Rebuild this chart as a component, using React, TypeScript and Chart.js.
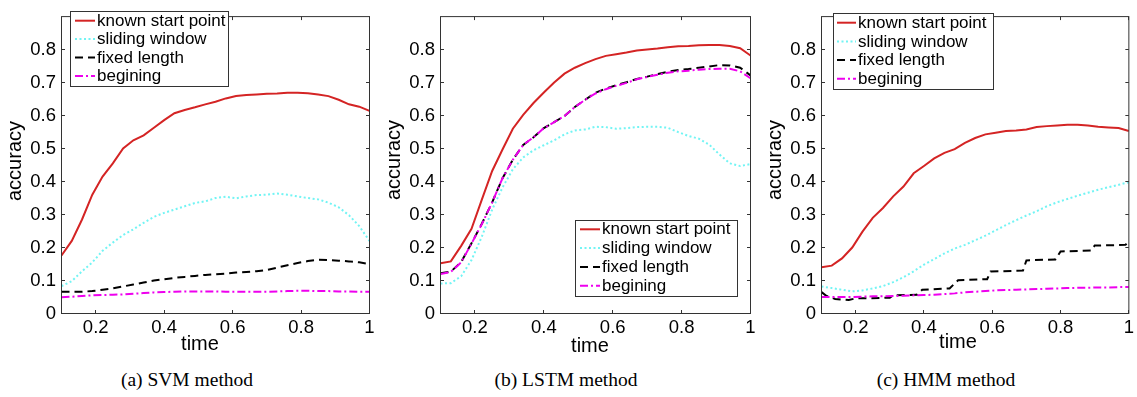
import React, { useEffect, useRef } from "react";
import { Chart, registerables } from "chart.js";

Chart.register(...registerables);

const FONT = '"Liberation Sans", Arial, Helvetica, sans-serif';

const seriesLabels = ["known start point", "sliding window", "fixed length", "begining"];

const time = [0.1, 0.13, 0.16, 0.19, 0.22, 0.25, 0.28, 0.31, 0.34, 0.37, 0.4, 0.43, 0.46, 0.49, 0.52, 0.55,
  0.58, 0.61, 0.64, 0.67, 0.7, 0.73, 0.76, 0.79, 0.82, 0.85, 0.88, 0.91, 0.94, 0.97, 1.0];

const xTickValues = [0.2, 0.4, 0.6, 0.8, 1];
const yTickValues = [0, 0.1, 0.2, 0.3, 0.4, 0.5, 0.6, 0.7, 0.8];

// (a) SVM
const svmKnown = [0.176, 0.22, 0.285, 0.36, 0.415, 0.455, 0.5, 0.525, 0.54, 0.563, 0.586, 0.607, 0.617, 0.625, 0.634, 0.642,
  0.652, 0.659, 0.662, 0.664, 0.666, 0.667, 0.669, 0.669, 0.668, 0.664, 0.659, 0.648, 0.634, 0.627, 0.614];
const svmSliding = [0.083, 0.098, 0.128, 0.155, 0.19, 0.215, 0.238, 0.255, 0.275, 0.293, 0.305, 0.315, 0.325, 0.335, 0.34, 0.35,
  0.354, 0.349, 0.355, 0.359, 0.36, 0.364, 0.36, 0.355, 0.35, 0.346, 0.336, 0.322, 0.298, 0.265, 0.22];
const svmFixed = [0.066, 0.066, 0.066, 0.068, 0.072, 0.076, 0.082, 0.088, 0.094, 0.1, 0.104, 0.108, 0.111, 0.114, 0.117, 0.119,
  0.121, 0.124, 0.126, 0.128, 0.132, 0.139, 0.146, 0.153, 0.159, 0.163, 0.162, 0.16, 0.158, 0.155, 0.15];
const svmBegin = [0.049, 0.051, 0.053, 0.055, 0.056, 0.057, 0.058, 0.06, 0.062, 0.064, 0.065, 0.066, 0.067, 0.067, 0.067, 0.067,
  0.066, 0.066, 0.066, 0.066, 0.066, 0.067, 0.068, 0.069, 0.069, 0.068, 0.068, 0.067, 0.067, 0.066, 0.066];

// (b) LSTM
const lstmKnown = [0.152, 0.158, 0.205, 0.257, 0.345, 0.432, 0.497, 0.56, 0.602, 0.638, 0.67, 0.7, 0.727, 0.745, 0.759, 0.771,
  0.781, 0.786, 0.791, 0.797, 0.8, 0.803, 0.807, 0.81, 0.811, 0.813, 0.814, 0.814, 0.811, 0.804, 0.782];
const lstmSliding = [0.091, 0.092, 0.113, 0.162, 0.233, 0.315, 0.382, 0.437, 0.473, 0.495, 0.51, 0.525, 0.543, 0.555, 0.558, 0.566,
  0.565, 0.56, 0.562, 0.565, 0.566, 0.566, 0.563, 0.55, 0.538, 0.53, 0.512, 0.482, 0.455, 0.447, 0.453];
const lstmFixed = [0.122, 0.127, 0.156, 0.213, 0.272, 0.337, 0.41, 0.466, 0.511, 0.534, 0.562, 0.58, 0.599, 0.626, 0.648, 0.669,
  0.682, 0.692, 0.701, 0.711, 0.718, 0.726, 0.733, 0.738, 0.741, 0.745, 0.749, 0.753, 0.752, 0.745, 0.722];
const lstmBegin = [0.12, 0.126, 0.155, 0.212, 0.271, 0.337, 0.41, 0.466, 0.511, 0.534, 0.562, 0.58, 0.599, 0.626, 0.648, 0.667,
  0.68, 0.69, 0.699, 0.71, 0.717, 0.724, 0.73, 0.734, 0.736, 0.739, 0.741, 0.742, 0.742, 0.734, 0.713];

// (c) HMM
const hmmKnown = [0.14, 0.145, 0.167, 0.2, 0.248, 0.29, 0.32, 0.355, 0.385, 0.425, 0.447, 0.47, 0.487, 0.498, 0.517, 0.532,
  0.543, 0.548, 0.553, 0.555, 0.558, 0.565, 0.568, 0.57, 0.572, 0.572, 0.57, 0.566, 0.564, 0.562, 0.553];
const hmmSliding = [0.082, 0.077, 0.072, 0.067, 0.07, 0.076, 0.083, 0.095, 0.11, 0.128, 0.148, 0.165, 0.182, 0.197, 0.208, 0.222,
  0.236, 0.252, 0.268, 0.283, 0.297, 0.31, 0.325, 0.337, 0.347, 0.357, 0.366, 0.375, 0.383, 0.39, 0.398];
const hmmFixedTime = [0.1, 0.115, 0.14, 0.18, 0.2, 0.23, 0.3, 0.31, 0.38, 0.395, 0.475, 0.5, 0.585, 0.595, 0.69, 0.7,
  0.785, 0.8, 0.89, 0.9, 0.99, 1.0];
const hmmFixed = [0.065, 0.053, 0.044, 0.041, 0.046, 0.046, 0.048, 0.055, 0.057, 0.072, 0.076, 0.101, 0.104, 0.127, 0.13, 0.161,
  0.164, 0.188, 0.191, 0.206, 0.208, 0.218];
const hmmBegin = [0.05, 0.05, 0.05, 0.05, 0.051, 0.052, 0.052, 0.053, 0.054, 0.055, 0.056, 0.057, 0.059, 0.061, 0.064, 0.066,
  0.068, 0.07, 0.071, 0.072, 0.073, 0.074, 0.075, 0.076, 0.077, 0.078, 0.078, 0.079, 0.079, 0.08, 0.08];

type LineStyle = { color: string; width: number; dash: number[] };
const lineStyles: LineStyle[] = [
  { color: "#d42424", width: 2, dash: [] },
  { color: "#72f4f4", width: 2, dash: [2, 2.5] },
  { color: "#000000", width: 2, dash: [8, 5] },
  { color: "#ee00ee", width: 2, dash: [8, 3, 2, 3] },
];

interface PanelSpec {
  left: number;
  width: number;
  height: number;
  area: { l: number; t: number; r: number; b: number };
  legend: { x: number; y: number; w: number; h: number; row0: number; gap: number; line0: number; line1: number; text: number };
  timeTitle: { x: number; y: number };
  accTitle: { x: number; y: number };
  caption: string;
  captionX: number;
  series: { x: number[]; y: number[] }[];
}

const panels: PanelSpec[] = [
  {
    left: 0, width: 380, height: 360,
    area: { l: 61.5, t: 5.5, r: 369.5, b: 313.5 },
    legend: { x: 70.5, y: 11.5, w: 158, h: 75, row0: 20.7, gap: 18.4, line0: 75, line1: 95, text: 97 },
    timeTitle: { x: 200, y: 350 },
    accTitle: { x: 21, y: 161 },
    caption: "(a) SVM method",
    captionX: 187,
    series: [
      { x: time, y: svmKnown },
      { x: time, y: svmSliding },
      { x: time, y: svmFixed },
      { x: time, y: svmBegin },
    ],
  },
  {
    left: 380, width: 380, height: 360,
    area: { l: 440.5, t: 4.5, r: 750.5, b: 313.5 },
    legend: { x: 575.5, y: 220.5, w: 162, h: 76, row0: 229.3, gap: 18.8, line0: 580, line1: 600, text: 602 },
    timeTitle: { x: 590, y: 351.5 },
    accTitle: { x: 400, y: 160 },
    caption: "(b) LSTM method",
    captionX: 566,
    series: [
      { x: time, y: lstmKnown },
      { x: time, y: lstmSliding },
      { x: time, y: lstmFixed },
      { x: time, y: lstmBegin },
    ],
  },
  {
    left: 760, width: 377, height: 360,
    area: { l: 821.5, t: 4.5, r: 1130.5, b: 313.5 },
    legend: { x: 833.5, y: 13.5, w: 160, h: 76, row0: 22.7, gap: 18.7, line0: 837, line1: 856, text: 858 },
    timeTitle: { x: 958, y: 348 },
    accTitle: { x: 781, y: 160 },
    caption: "(c) HMM method",
    captionX: 946,
    series: [
      { x: time, y: hmmKnown },
      { x: time, y: hmmSliding },
      { x: hmmFixedTime, y: hmmFixed },
      { x: time, y: hmmBegin },
    ],
  },
];

function makeDecorPlugin(spec: PanelSpec) {
  const off = spec.left;
  return {
    id: "matlabDecor",
    afterDatasetsDraw(chart: any) {
      const ctx = chart.ctx as CanvasRenderingContext2D;
      const { left, right, top, bottom } = chart.chartArea;
      const xs = chart.scales.x;
      const ys = chart.scales.y;
      ctx.save();
      ctx.strokeStyle = "#333333";
      ctx.lineWidth = 1;
      ctx.setLineDash([]);
      ctx.strokeRect(left, top, right - left, bottom - top);
      ctx.beginPath();
      const tl = 3.5;
      xs.ticks.forEach((t: any) => {
        const p = Math.round(xs.getPixelForValue(t.value) - 0.5) + 0.5;
        ctx.moveTo(p, bottom);
        ctx.lineTo(p, bottom - tl);
        ctx.moveTo(p, top);
        ctx.lineTo(p, top + tl);
      });
      ys.ticks.forEach((t: any) => {
        const p = Math.round(ys.getPixelForValue(t.value) - 0.5) + 0.5;
        ctx.moveTo(left, p);
        ctx.lineTo(left + tl, p);
        ctx.moveTo(right, p);
        ctx.lineTo(right - tl, p);
      });
      ctx.stroke();
      ctx.restore();
    },
    afterDraw(chart: any) {
      const ctx = chart.ctx as CanvasRenderingContext2D;
      ctx.save();
      // axis titles
      ctx.fillStyle = "#000";
      ctx.font = `20px ${FONT}`;
      ctx.textAlign = "center";
      ctx.textBaseline = "alphabetic";
      ctx.fillText("time", spec.timeTitle.x - off, spec.timeTitle.y);
      ctx.save();
      ctx.translate(spec.accTitle.x - off, spec.accTitle.y);
      ctx.rotate(-Math.PI / 2);
      ctx.fillText("accuracy", 0, 0);
      ctx.restore();

      // legend
      const lg = spec.legend;
      ctx.fillStyle = "#ffffff";
      ctx.fillRect(lg.x - off, lg.y, lg.w, lg.h);
      ctx.strokeStyle = "#333333";
      ctx.lineWidth = 1;
      ctx.setLineDash([]);
      ctx.strokeRect(lg.x - off, lg.y, lg.w, lg.h);
      ctx.font = `17px ${FONT}`;
      ctx.textAlign = "left";
      ctx.textBaseline = "middle";
      chart.data.datasets.forEach((ds: any, i: number) => {
        const y = lg.row0 + i * lg.gap;
        ctx.save();
        ctx.strokeStyle = ds.borderColor;
        ctx.lineWidth = ds.borderWidth;
        ctx.setLineDash(ds.borderDash || []);
        ctx.beginPath();
        ctx.moveTo(lg.line0 - off, y);
        ctx.lineTo(lg.line1 - off, y);
        ctx.stroke();
        ctx.restore();
        ctx.fillStyle = "#000";
        ctx.fillText(ds.label, lg.text - off, y + 0.5);
      });
      ctx.restore();
    },
  };
}

function Panel({ spec }: { spec: PanelSpec }) {
  const ref = useRef<HTMLCanvasElement | null>(null);
  useEffect(() => {
    if (!ref.current) return;
    const n = spec.series.length;
    const chart = new Chart(ref.current, {
      type: "line",
      data: {
        datasets: spec.series.map((s, i) => ({
          label: seriesLabels[i],
          data: s.x.map((t, j) => ({ x: t, y: s.y[j] })),
          borderColor: lineStyles[i].color,
          borderWidth: lineStyles[i].width,
          borderDash: lineStyles[i].dash,
          pointRadius: 0,
          tension: 0,
          fill: false,
          order: n - 1 - i,
        })),
      },
      options: {
        animation: false,
        responsive: false,
        maintainAspectRatio: false,
        devicePixelRatio: 1,
        events: [],
        layout: {
          padding: {
            left: 0,
            top: spec.area.t,
            right: spec.width - (spec.area.r - spec.left),
            bottom: 0,
          },
        },
        plugins: {
          legend: { display: false },
          tooltip: { enabled: false },
          title: { display: false },
        },
        scales: {
          x: {
            type: "linear",
            min: 0.1,
            max: 1,
            grid: { display: false, drawTicks: false },
            border: { display: false },
            afterBuildTicks: (s: any) => {
              s.ticks = xTickValues.map((v) => ({ value: v }));
            },
            afterFit: (s: any) => {
              s.height = spec.height - spec.area.b;
            },
            ticks: {
              padding: 3,
              color: "#000",
              autoSkip: false,
              maxRotation: 0,
              font: { family: FONT, size: 18.5 },
              callback: (v: any) => String(v),
            },
          },
          y: {
            type: "linear",
            min: 0,
            max: 0.9,
            grid: { display: false, drawTicks: false },
            border: { display: false },
            afterBuildTicks: (s: any) => {
              s.ticks = yTickValues.map((v) => ({ value: v }));
            },
            afterFit: (s: any) => {
              s.width = spec.area.l - spec.left;
            },
            ticks: {
              padding: 5.5,
              color: "#000",
              autoSkip: false,
              font: { family: FONT, size: 18.5 },
              callback: (v: any) => String(v),
            },
          },
        },
      } as any,
      plugins: [makeDecorPlugin(spec)],
    });
    return () => chart.destroy();
  }, [spec]);

  return (
    <>
      <canvas
        ref={ref}
        width={spec.width}
        height={spec.height}
        style={{ position: "absolute", left: spec.left, top: 0, width: spec.width, height: spec.height }}
      />
      <div
        style={{
          position: "absolute",
          left: spec.captionX,
          top: 370,
          transform: "translateX(-50%)",
          whiteSpace: "nowrap",
          fontFamily: '"Liberation Serif", "Times New Roman", serif',
          fontSize: "19.5px",
          lineHeight: "20px",
          color: "#000",
        }}
      >
        {spec.caption}
      </div>
    </>
  );
}

export default function App() {
  return (
    <div
      style={{
        position: "absolute",
        left: 0,
        top: 0,
        width: 1137,
        height: 397,
        background: "#ffffff",
        overflow: "hidden",
      }}
    >
      {panels.map((p, i) => (
        <Panel key={i} spec={p} />
      ))}
    </div>
  );
}
